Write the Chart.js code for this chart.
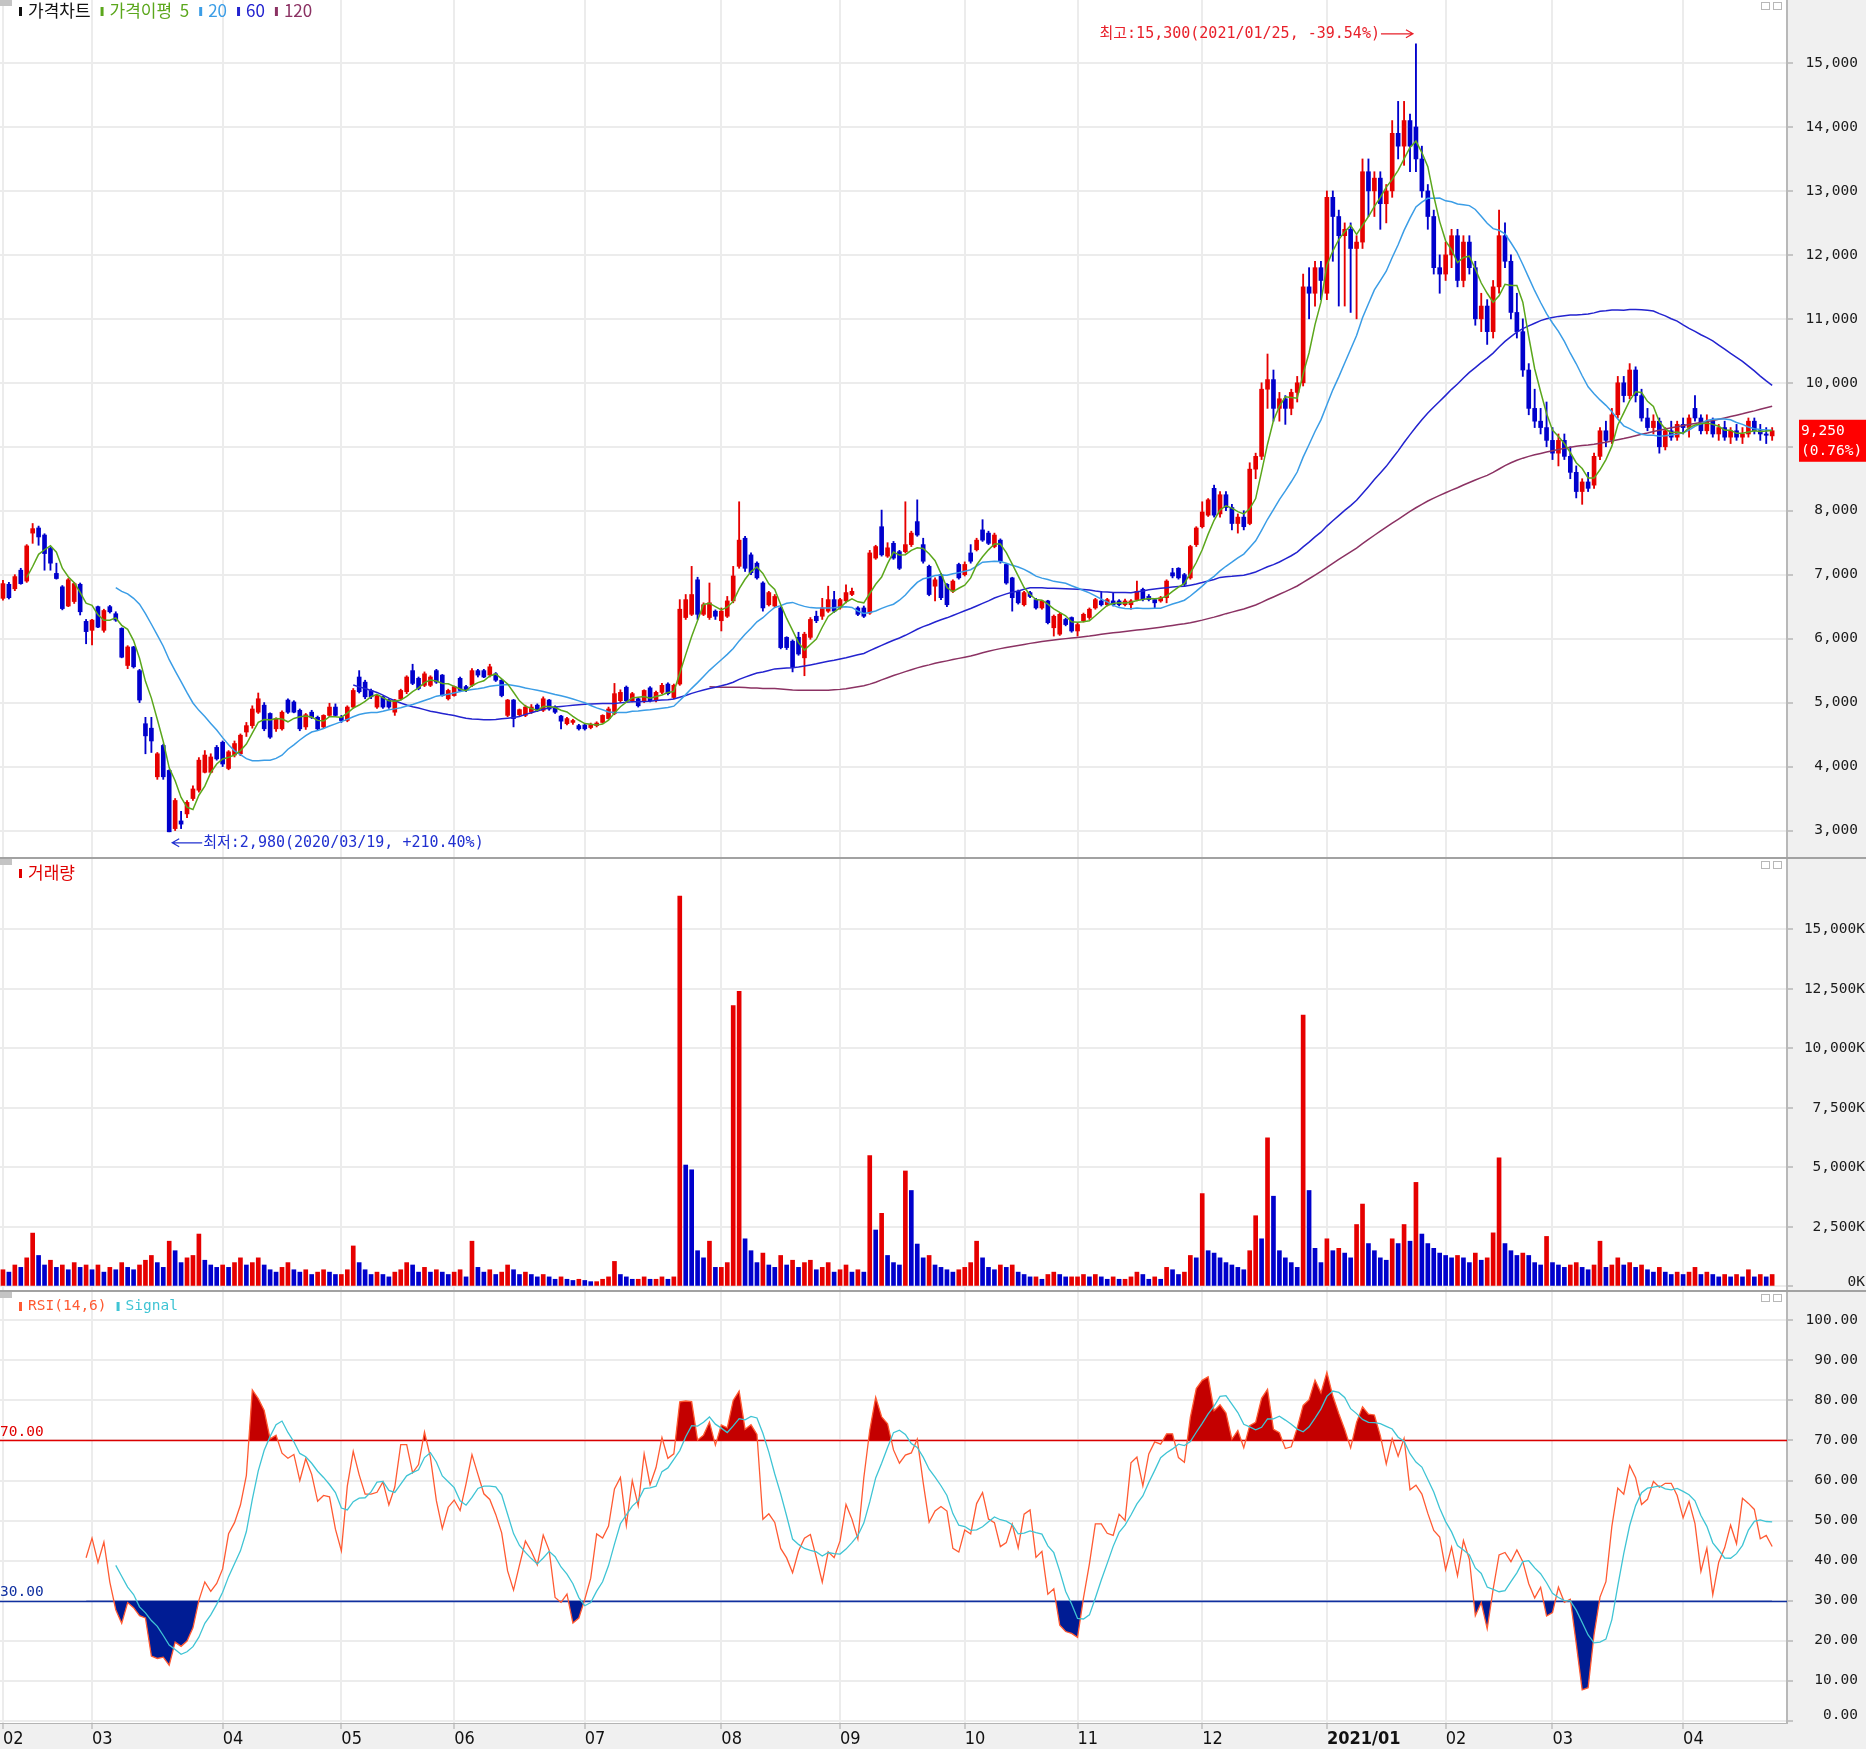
<!DOCTYPE html>
<html lang="ko">
<head>
<meta charset="utf-8">
<title>가격차트</title>
<script src="https://cdn.jsdelivr.net/npm/chart.js@4.4.1/dist/chart.umd.min.js"></script>
<style>
  html, body { margin: 0; padding: 0; background: #fff; }
  body { position: relative; width: 1866px; height: 1749px; overflow: hidden; }
  canvas { position: absolute; left: 0; }
  #priceChart { top: 0; }
  #volumeChart { top: 859px; }
  #rsiChart { top: 1292px; }
  .sep { position: absolute; left: 0; width: 1866px; height: 2px; background: #a2a2a2; }
</style>
</head>
<body>
<canvas id="priceChart" width="1866" height="857"></canvas>
<div class="sep" style="top:857px"></div>
<canvas id="volumeChart" width="1866" height="431"></canvas>
<div class="sep" style="top:1290px"></div>
<canvas id="rsiChart" width="1866" height="457"></canvas>
<script>
const UP = "#e60000", DOWN = "#0000cc";
const MA_PERIODS = [5, 20, 60, 120];
const MA_COLORS = ["#5ba71c", "#3b9de6", "#2323cf", "#8b3263"];
const RSI_COLOR = "#ff5a32", SIGNAL_COLOR = "#3fc4d4";
const MONO = '"DejaVu Sans Mono", "Noto Sans CJK KR", monospace';
const KR = '"Noto Sans CJK KR", "DejaVu Sans", sans-serif';
const NARROW = '"Liberation Sans Narrow", "DejaVu Sans Condensed", sans-serif';

const monthLabels = ["02", "03", "04", "05", "06", "07", "08", "09", "10", "11", "12", "2021/01", "02", "03", "04"];
const slotCount = 301;
const priceTicks = [3000, 4000, 5000, 6000, 7000, 8000, 9000, 10000, 11000, 12000, 13000, 14000, 15000];
const volumeTicks = [0, 2500, 5000, 7500, 10000, 12500, 15000];
const rsiTicks = [0, 10, 20, 30, 40, 50, 60, 70, 80, 90, 100];
const rsiPeriod = 14, signalPeriod = 6;
const highDate = "2021/01/25", lowDate = "2020/03/19";

// [open, high, low, close, volume(K)]
const feb20 = [
  [6630,6910,6600,6860,700],[6850,6880,6620,6640,600],[6780,7000,6750,6970,900],[7070,7100,6850,6860,800],
  [6900,7470,6880,7450,1200],[7650,7800,7490,7720,2240],[7730,7760,7460,7590,1300],[7620,7640,7070,7330,900],
  [7410,7430,7070,7180,1100],[7020,7180,6930,6940,800],[6810,6830,6450,6470,900],[6510,6940,6500,6920,700],
  [6580,6880,6550,6860,1000],[6850,6870,6370,6420,800],[6270,6300,5920,6110,900]
];
const mar20 = [
  [6130,6300,5900,6290,700],[6500,6510,6170,6180,900],[6130,6460,6100,6440,600],[6500,6520,6400,6420,800],
  [6390,6420,6270,6290,700],[6160,6170,5700,5710,1000],[5580,5890,5530,5870,800],[5870,5880,5540,5560,700],
  [5500,5520,5000,5040,900],[4670,4770,4200,4480,1100],[4600,4770,4220,4400,1300],[3840,4220,3800,4200,1000],
  [4330,4350,3800,3840,800],[3940,3950,2980,2980,1900],[3030,3500,3000,3470,1500],[3150,3300,3030,3100,1000],
  [3260,3470,3200,3440,1200],[3500,3700,3470,3650,1300],[3630,4140,3600,4100,2200],[3910,4250,3900,4180,1100],
  [3910,4200,3900,4150,900],[4300,4330,4100,4120,800]
];
const apr20 = [
  [4380,4400,4000,4040,900],[3970,4250,3950,4230,800],[4180,4400,4150,4360,1000],[4200,4510,4170,4490,1200],
  [4540,4690,4470,4640,900],[4640,4950,4600,4900,1000],[4850,5150,4830,5060,1200],[4960,5000,4560,4590,900],
  [4830,4840,4440,4460,700],[4590,4760,4550,4750,600],[4590,4870,4570,4850,800],[5040,5060,4830,4850,1000],
  [5010,5030,4840,4850,700],[4880,4900,4560,4590,600],[4620,4830,4580,4810,700],[4850,4880,4750,4770,500],
  [4770,4790,4570,4590,600],[4620,4810,4600,4800,700],[4800,4990,4780,4930,600],[4930,4980,4790,4800,500]
];
const may20 = [
  [4770,4800,4690,4720,500],[4720,4950,4700,4930,700],[4930,5220,4910,5190,1700],[5400,5500,5150,5170,1000],
  [5320,5350,5060,5090,700],[5190,5210,5060,5090,500],[4930,5130,4910,5110,600],[5090,5100,4910,4930,500],
  [5040,5060,4910,4930,400],[4850,5050,4800,5040,600],[5060,5210,5040,5190,700],[5170,5420,5140,5400,1000],
  [5500,5600,5280,5300,900],[5380,5400,5200,5220,600],[5270,5480,5250,5450,800],[5270,5420,5250,5400,600],
  [5500,5520,5300,5320,700],[5430,5440,5100,5110,600],[5060,5210,5040,5190,500]
];
const jun20 = [
  [5110,5260,5100,5250,600],[5380,5400,5170,5190,700],[5250,5270,5170,5190,400],[5270,5530,5250,5500,1900],
  [5500,5520,5400,5430,800],[5500,5520,5390,5400,600],[5430,5600,5400,5560,700],[5450,5470,5330,5350,500],
  [5350,5360,5090,5110,600],[4800,5050,4780,5040,900],[5040,5050,4620,4750,700],[4810,4900,4790,4890,500],
  [4800,4960,4780,4930,600],[4850,4970,4830,4930,500],[4960,4980,4860,4880,400],[4880,5090,4860,5060,500],
  [5040,5050,4880,4900,400],[4930,4950,4830,4850,300],[4790,4800,4590,4710,400],[4670,4770,4650,4750,300],
  [4690,4740,4660,4720,250],[4640,4660,4570,4590,300]
];
const jul20 = [
  [4650,4670,4570,4590,250],[4610,4680,4590,4660,200],[4640,4700,4620,4680,200],[4690,4810,4680,4800,300],
  [4750,4930,4740,4900,400],[4830,5300,4810,5140,1050],[5030,5200,5000,5160,500],[5240,5260,5000,5030,400],
  [5030,5160,5010,5140,300],[5060,5080,4930,4950,300],[5030,5200,5000,5190,400],[5230,5250,5010,5030,300],
  [5030,5180,5010,5160,300],[5160,5300,5140,5270,400],[5290,5310,5120,5140,300],[5080,5290,5060,5270,400],
  [5290,6610,5270,6460,16400],[6330,6690,6300,6610,5100],[6380,7130,6360,6690,4900],[6920,6960,6300,6380,1500],
  [6380,6560,6360,6530,1200],[6330,6870,6300,6560,1900],[6430,6450,6300,6350,800]
];
const aug20 = [
  [6280,6480,6120,6430,800],[6350,6660,6330,6590,1000],[6590,7130,6560,6980,11800],[7130,8140,7100,7540,12400],
  [7570,7600,7050,7100,2000],[7310,7340,7000,7030,1500],[7180,7200,6930,6950,1000],[6870,6890,6430,6480,1400],
  [6530,6740,6510,6720,900],[6510,6690,6490,6660,800],[6480,6500,5840,5860,1300],[6020,6030,5830,5860,900],
  [5960,5980,5480,5550,1100],[6020,6100,5740,5760,800],[5700,6100,5420,6070,1000],[6020,6330,5990,6300,1100],
  [6350,6430,6250,6280,700],[6350,6630,6300,6480,800],[6430,6820,6410,6610,1000],[6610,6740,6410,6430,600]
];
const sep20 = [
  [6480,6630,6460,6610,700],[6590,6840,6560,6720,900],[6690,6790,6670,6740,600],[6480,6500,6360,6380,700],
  [6480,6510,6330,6350,600],[6400,7380,6380,7340,5500],[7260,7460,7240,7440,2370],[7750,8010,7290,7310,3070],
  [7290,7500,7270,7420,1300],[7490,7520,7240,7260,1000],[7360,7380,7080,7100,900],[7360,8140,7340,7470,4850],
  [7470,7680,7440,7650,4030],[7830,8170,7600,7620,1780],[7470,7570,7180,7210,1200],[7130,7150,6670,6690,1300],
  [6820,6950,6590,6920,900],[7000,7020,6610,6640,800],[6850,6860,6500,6530,700],[6740,6920,6720,6900,600],
  [7160,7180,6930,6950,700]
];
const oct20 = [
  [7000,7200,6980,7160,800],[7340,7470,7180,7210,1000],[7390,7570,7370,7540,1900],[7700,7860,7520,7540,1200],
  [7650,7680,7470,7490,800],[7440,7650,7420,7620,700],[7540,7560,7180,7210,900],[7160,7170,6850,6870,800],
  [6950,6960,6430,6640,900],[6740,6760,6540,6560,600],[6530,6740,6510,6720,500],[6720,6740,6640,6660,400],
  [6610,6630,6460,6480,400],[6480,6600,6460,6590,300],[6590,6600,6230,6250,500],[6170,6370,6040,6350,600],
  [6070,6400,6050,6380,500],[6300,6320,6200,6220,400],[6330,6340,6100,6120,400]
];
const nov20 = [
  [6120,6240,6040,6220,400],[6280,6400,6260,6380,500],[6330,6480,6300,6460,400],[6480,6630,6460,6610,500],
  [6590,6740,6510,6530,400],[6530,6630,6510,6610,300],[6590,6720,6510,6530,400],[6590,6610,6510,6530,300],
  [6530,6620,6510,6590,300],[6530,6610,6460,6590,400],[6610,6900,6590,6740,600],[6770,6790,6590,6610,500],
  [6660,6690,6590,6610,300],[6610,6630,6480,6560,400],[6590,6660,6570,6640,300],[6640,6920,6560,6900,800],
  [7030,7100,6950,6980,700],[7100,7110,6930,6950,500],[7000,7020,6820,6850,600],[6950,7460,6930,7440,1300],
  [7470,7750,7440,7730,1200]
];
const dec20 = [
  [7750,8140,7730,7980,3900],[7930,8190,7910,8170,1500],[8350,8400,7900,7930,1400],[7950,8300,7900,8250,1200],
  [8250,8300,8000,8050,1000],[8050,8100,7700,7800,900],[7800,7950,7650,7900,800],[7900,8000,7700,7750,700],
  [7800,8750,7780,8650,1500],[8650,8900,8500,8850,2970],[8850,10000,8800,9900,2000],[9900,10450,9600,10050,6240],
  [10050,10200,9400,9600,3790],[9600,9850,9400,9750,1500],[9750,9800,9350,9600,1200],[9600,9900,9500,9850,1000],
  [9850,10100,9700,10000,800],[10000,11700,9950,11500,11400],[11500,11800,11000,11400,4030],[11400,11900,11200,11800,1600],
  [11800,11900,11300,11600,1000]
];
const jan21 = [
  [11400,13000,11300,12900,2000],[12900,13000,11900,12600,1500],[12600,12700,11200,12300,1600],[12300,12500,11200,12400,1400],
  [12400,12500,11100,12100,1200],[12100,12300,11000,12200,2600],[12200,13500,12100,13300,3460],[13300,13500,12600,13000,1800],
  [13000,13300,12600,13200,1500],[13200,13300,12400,12800,1200],[12800,13100,12500,13000,1100],[13000,14100,12900,13900,2000],
  [13900,14400,13500,13700,1800],[13700,14400,13400,14100,2600],[14100,14200,13300,13700,1900],[14000,15300,13300,13500,4370],
  [13500,13700,12900,13000,2200],[13000,13100,12400,12600,1800],[12600,12700,11700,11800,1600],[11800,12000,11400,11700,1400]
];
const feb21 = [
  [11700,12200,11600,12000,1300],[12000,12400,11800,12300,1200],[12300,12400,11500,11600,1300],[11600,12300,11500,12200,1200],
  [12200,12300,11700,11800,1000],[11800,11900,10900,11000,1400],[11000,11400,10800,11200,1100],[11200,11300,10600,10800,1200],
  [10800,11600,10700,11500,2250],[11500,12700,11400,12300,5400],[12300,12500,11800,11900,1800],[11900,12000,11000,11100,1500],
  [11100,11400,10700,10800,1300],[10800,11000,10100,10200,1400],[10200,10300,9500,9600,1300],[9600,9900,9300,9400,1000],
  [9400,9600,9200,9300,900],[9300,9700,9000,9100,2100]
];
const mar21 = [
  [9100,9300,8800,8900,1000],[8900,9200,8700,9100,900],[9100,9200,8800,8850,800],[8850,9000,8500,8600,900],
  [8600,8700,8200,8300,1000],[8300,8500,8100,8450,800],[8450,8600,8300,8350,700],[8400,8900,8350,8850,900],
  [8850,9300,8800,9250,1900],[9250,9400,9000,9100,800],[9100,9600,9050,9500,900],[9500,10100,9450,10000,1200],
  [10000,10100,9700,9800,900],[9800,10300,9750,10200,1000],[10200,10250,9700,9800,800],[9800,9900,9400,9450,900],
  [9450,9600,9250,9300,700],[9300,9500,9200,9400,600],[9400,9450,8900,9000,800],[9000,9300,8950,9250,600],
  [9250,9400,9100,9150,500],[9150,9400,9100,9350,600]
];
const apr21 = [
  [9350,9450,9200,9300,500],[9300,9500,9150,9450,600],[9600,9800,9400,9450,800],[9450,9500,9200,9250,500],
  [9250,9500,9200,9400,600],[9400,9450,9150,9200,500],[9200,9350,9100,9300,400],[9300,9400,9100,9150,500],
  [9150,9300,9050,9250,400],[9250,9350,9100,9150,500],[9150,9300,9050,9200,400],[9200,9450,9150,9400,700],
  [9400,9450,9200,9250,400],[9250,9350,9100,9200,500],[9200,9300,9050,9180,400],[9170,9300,9100,9250,500]
];

const months = [feb20, mar20, apr20, may20, jun20, jul20, aug20, sep20, oct20, nov20, dec20, jan21, feb21, mar21, apr21];
const days = months.flat();
const monthStart = [];
months.reduce((k, m) => { monthStart.push(k); return k + m.length; }, 0);

const highs = days.map(d => d[1]);
const lows = days.map(d => d[2]);
const closes = days.map(d => d[3]);
const volumes = days.map(d => d[4]);
const labels = Array.from({ length: slotCount }, (_, i) => i);

function sma(arr, n) {
  return arr.map((v, i) => {
    if (i < n - 1 || arr[i - n + 1] == null) return null;
    let s = 0;
    for (let j = i - n + 1; j <= i; j++) s += arr[j];
    return s / n;
  });
}

function rsi(c, n) {
  return c.map((v, i) => {
    if (i < n) return null;
    let g = 0, l = 0;
    for (let j = i - n + 1; j <= i; j++) {
      const d = c[j] - c[j - 1];
      if (d > 0) g += d; else l -= d;
    }
    return g + l === 0 ? 50 : 100 * g / (g + l);
  });
}

const candleColors = days.map(d => d[3] >= d[0] ? UP : DOWN);
const volumeColors = volumes.map((v, i) => i === 0 || v >= volumes[i - 1] ? UP : DOWN);
const rsiValues = rsi(closes, rsiPeriod);
const signalValues = sma(rsiValues, signalPeriod);

const isMonth = i => monthStart.includes(i);
const monthText = i => { const m = monthStart.indexOf(i); return m < 0 ? "" : monthLabels[m]; };
const fmt = v => v.toLocaleString("en-US");

function xAxis(show) {
  return {
    type: "category",
    offset: true,
    grid: {
      offset: false, lineWidth: 2,
      color: c => isMonth(c.index) ? "#ececec" : "rgba(0,0,0,0)",
      drawTicks: show, tickLength: 6, tickWidth: 1,
      tickColor: c => isMonth(c.index) ? "#a8a8a8" : "rgba(0,0,0,0)"
    },
    border: { display: show, color: "#b4b4b4", width: 1 },
    ticks: {
      display: show, autoSkip: false, maxRotation: 0, minRotation: 0, align: "start", padding: 0, color: "#111",
      font: c => ({ family: NARROW, size: 18, weight: monthText(c.index) === "2021/01" ? "bold" : "normal" }),
      callback: (v, i) => monthText(i)
    },
    afterFit: s => { s.height = show ? 26 : 0; }
  };
}

function yAxis(min, max, ticks) {
  return {
    position: "right", min, max,
    afterBuildTicks: s => { s.ticks = ticks.map(v => ({ value: v })); },
    afterFit: s => { s.width = 79; },
    grid: { color: "#ececec", lineWidth: 2, tickLength: 6, tickWidth: 1, tickColor: "#9a9a9a" },
    border: { color: "#b8b8b8", width: 2 },
    ticks: { display: false }
  };
}

const baseOptions = {
  responsive: false, animation: false, devicePixelRatio: 1, events: [],
  layout: { padding: 0 },
  plugins: { legend: { display: false }, tooltip: { enabled: false } }
};

const background = {
  id: "background",
  beforeDraw(c) {
    const { ctx, chartArea: a, width, height } = c;
    ctx.save();
    ctx.fillStyle = "#fff";
    ctx.fillRect(0, 0, width, height);
    ctx.fillStyle = "#f0f0f0";
    ctx.fillRect(a.right, 0, width - a.right, height);
    ctx.fillRect(0, a.bottom, width, height - a.bottom);
    ctx.restore();
  }
};

function axisLabels(format, right) {
  return {
    id: "axisLabels",
    afterDraw(c) {
      const s = c.scales.y, ctx = c.ctx, a = c.chartArea;
      ctx.save();
      ctx.font = "14.5px " + MONO;
      ctx.fillStyle = "#1b1b1b";
      ctx.textAlign = "right";
      ctx.textBaseline = "middle";
      s.ticks.forEach(t => {
        const y = Math.min(a.bottom - 8, Math.max(a.top + 8, s.getPixelForValue(t.value)));
        ctx.fillText(format(t.value), right, y);
      });
      ctx.restore();
    }
  };
}

function panelChrome(ctx) {
  ctx.fillStyle = "#c4c4c4";
  ctx.fillRect(0, 0, 12, 6);
  ctx.strokeStyle = "#b8b8b8";
  ctx.lineWidth = 1;
  [1761, 1773].forEach(x => ctx.strokeRect(x + 0.5, 2.5, 8, 7));
}

function legend(ctx, items, y, font) {
  ctx.font = font;
  ctx.textBaseline = "middle";
  ctx.textAlign = "left";
  let x = 19;
  items.forEach(([text, color]) => {
    ctx.fillStyle = color;
    ctx.fillRect(x, y - 4, 3, 9);
    ctx.fillText(text, x + 9, y);
    x += 9 + ctx.measureText(text).width + 10;
  });
}

function arrow(ctx, x0, x1, y, color) {
  const d = Math.sign(x1 - x0);
  ctx.strokeStyle = color;
  ctx.lineWidth = 1.2;
  ctx.beginPath();
  ctx.moveTo(x0, y); ctx.lineTo(x1, y);
  ctx.moveTo(x1 - d * 7, y - 4); ctx.lineTo(x1, y); ctx.lineTo(x1 - d * 7, y + 4);
  ctx.stroke();
}

const priceOverlay = {
  id: "priceOverlay",
  afterDraw(c) {
    const ctx = c.ctx, xs = c.scales.x, ys = c.scales.y;
    ctx.save();
    panelChrome(ctx);
    legend(ctx, [["가격차트", "#111"], ["가격이평  5", MA_COLORS[0]], ["20", MA_COLORS[1]], ["60", MA_COLORS[2]], ["120", MA_COLORS[3]]], 11, "17px " + KR);

    const last = closes[closes.length - 1];
    const prev = closes[closes.length - 2];
    const hi = Math.max(...highs), lo = Math.min(...lows);
    const hiIdx = highs.indexOf(hi), loIdx = lows.indexOf(lo);
    const pct = v => ((last / v - 1) * 100).toFixed(2);

    ctx.font = "15px " + MONO;
    ctx.textBaseline = "middle";
    const hx = xs.getPixelForValue(hiIdx) - 3, hy = ys.getPixelForValue(hi) - 10;
    arrow(ctx, hx - 32, hx, hy, "#e8202a");
    ctx.fillStyle = "#e8202a";
    ctx.textAlign = "right";
    ctx.fillText(`최고:${fmt(hi)}(${highDate}, ${pct(hi)}%)`, hx - 33, hy);

    const lx = xs.getPixelForValue(loIdx) + 3, ly = ys.getPixelForValue(lo) + 11;
    arrow(ctx, lx + 30, lx, ly, "#2030d0");
    ctx.fillStyle = "#2030d0";
    ctx.textAlign = "left";
    ctx.fillText(`최저:${fmt(lo)}(${lowDate}, +${pct(lo)}%)`, lx + 31, ly);

    const by = ys.getPixelForValue(last) - 11;
    ctx.fillStyle = "#ff0000";
    ctx.fillRect(1799, by, 67, 42);
    ctx.fillStyle = "#fff";
    ctx.font = "14.5px " + MONO;
    ctx.fillText(fmt(last), 1801, by + 11);
    ctx.fillText(`(${((last / prev - 1) * 100).toFixed(2)}%)`, 1801, by + 31);
    ctx.restore();
  }
};

new Chart(document.getElementById("priceChart"), {
  type: "bar",
  data: {
    labels,
    datasets: [
      ...MA_PERIODS.map((n, k) => ({
        type: "line", data: sma(closes, n), borderColor: MA_COLORS[k], borderWidth: 1.5,
        pointRadius: 0, tension: 0, order: 1
      })),
      { type: "bar", data: days.map(d => [d[2], d[1]]), backgroundColor: candleColors, barThickness: 1.2, grouped: false, order: 6 },
      { type: "bar", data: days.map(d => [d[0], d[3]]), backgroundColor: candleColors, barThickness: 4, minBarLength: 1, grouped: false, order: 5 }
    ]
  },
  options: { ...baseOptions, scales: { x: xAxis(false), y: yAxis(2586, 15985, priceTicks) } },
  plugins: [background, axisLabels(fmt, 1858), priceOverlay]
});

new Chart(document.getElementById("volumeChart"), {
  type: "bar",
  data: { labels, datasets: [{ data: volumes, backgroundColor: volumeColors, barThickness: 4 }] },
  options: { ...baseOptions, scales: { x: xAxis(false), y: yAxis(-151, 17958, volumeTicks) } },
  plugins: [background, axisLabels(v => fmt(v) + "K", 1865), {
    id: "volumeOverlay",
    afterDraw(c) {
      const ctx = c.ctx;
      ctx.save();
      panelChrome(ctx);
      legend(ctx, [["거래량", "#e00000"]], 14, "17px " + KR);
      ctx.restore();
    }
  }]
});

new Chart(document.getElementById("rsiChart"), {
  type: "line",
  data: {
    labels,
    datasets: [
      { data: signalValues, borderColor: SIGNAL_COLOR, borderWidth: 1.3, pointRadius: 0, tension: 0, order: 0, fill: false },
      { data: rsiValues, borderColor: RSI_COLOR, borderWidth: 1.3, pointRadius: 0, tension: 0, order: 1,
        fill: { target: { value: 70 }, above: "#c40000", below: "rgba(0,0,0,0)" } },
      { data: rsiValues, borderColor: "rgba(0,0,0,0)", borderWidth: 0, pointRadius: 0, tension: 0, order: 2,
        fill: { target: { value: 30 }, above: "rgba(0,0,0,0)", below: "#001c94" } }
    ]
  },
  options: { ...baseOptions, scales: { x: xAxis(true), y: yAxis(-0.58, 107.1, rsiTicks) } },
  plugins: [background, axisLabels(v => v.toFixed(2), 1858), {
    id: "rsiOverlay",
    beforeDatasetsDraw(c) {
      const ctx = c.ctx, a = c.chartArea, ys = c.scales.y;
      ctx.save();
      [[70, "#e00000"], [30, "#1030a0"]].forEach(([v, color]) => {
        const y = Math.round(ys.getPixelForValue(v)) + 0.5;
        ctx.strokeStyle = color;
        ctx.lineWidth = 1.5;
        ctx.beginPath(); ctx.moveTo(a.left, y); ctx.lineTo(a.right, y); ctx.stroke();
      });
      ctx.restore();
    },
    afterDraw(c) {
      const ctx = c.ctx, ys = c.scales.y;
      ctx.save();
      panelChrome(ctx);
      legend(ctx, [["RSI(14,6)", RSI_COLOR], ["Signal", SIGNAL_COLOR]], 14, "14.5px " + MONO);
      ctx.font = "14.5px " + MONO;
      ctx.textAlign = "left";
      ctx.textBaseline = "bottom";
      [[70, "#e00000"], [30, "#1030a0"]].forEach(([v, color]) => {
        ctx.fillStyle = color;
        ctx.fillText(v.toFixed(2), 0, ys.getPixelForValue(v) - 1);
      });
      ctx.restore();
    }
  }]
});
</script>
</body>
</html>
